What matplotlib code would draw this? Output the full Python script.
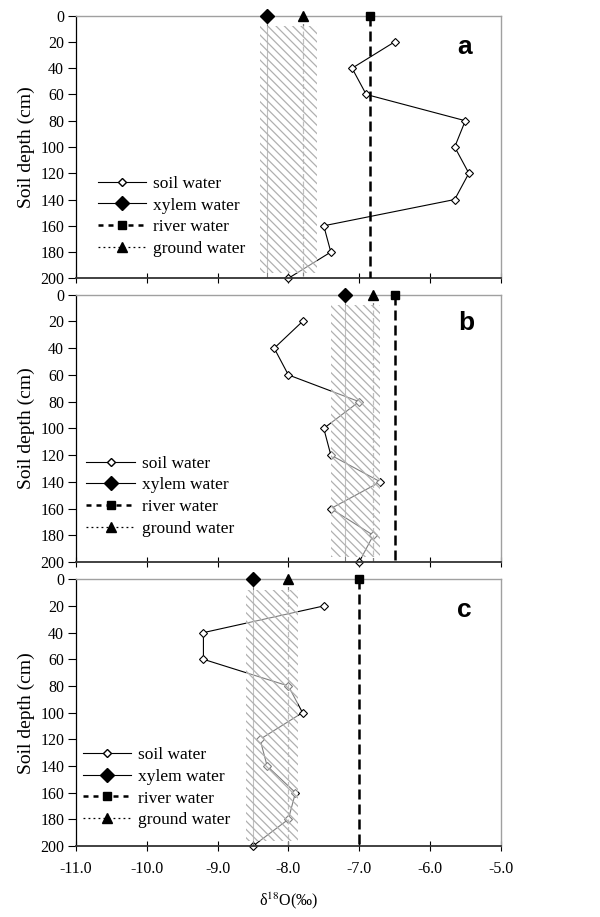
import matplotlib
matplotlib.use("Agg")
import matplotlib.pyplot as plt
from matplotlib.lines import Line2D

plt.rcParams['font.family'] = ['Liberation Serif', 'DejaVu Serif']
plt.rcParams['mathtext.fontset'] = 'stix'
plt.rcParams['axes.unicode_minus'] = False
plt.rcParams['hatch.linewidth'] = 0.9

# data
depth = [20, 40, 60, 80, 100, 120, 140, 160, 180, 200]
soil_a = [-6.5, -7.1, -6.9, -5.5, -5.65, -5.45, -5.65, -7.5, -7.4, -8.0]
soil_b = [-7.8, -8.2, -8.0, -7.0, -7.5, -7.4, -6.7, -7.4, -6.8, -7.0]
soil_c = [-7.5, -9.2, -9.2, -8.0, -7.8, -8.4, -8.3, -7.9, -8.0, -8.5]
xylem = [-8.3, -7.2, -8.5]
ground = [-7.8, -6.8, -8.0]
river = [-6.85, -6.5, -7.0]
band_lo = [-8.4, -7.4, -8.6]
band_hi = [-7.6, -6.7, -7.87]
band_depth = [8, 196]
panel_labels = ['a', 'b', 'c']
xticks = [-11, -10, -9, -8, -7, -6, -5]
yticks = [0, 20, 40, 60, 80, 100, 120, 140, 160, 180, 200]

soils = [soil_a, soil_b, soil_c]

fig = plt.figure(figsize=(6, 9.17), dpi=100)
# axes rectangles [left, bottom, width, height]
rects = [[0.1267, 0.6965, 0.7078, 0.2864],
         [0.1267, 0.3871, 0.7078, 0.2915],
         [0.1267, 0.0774, 0.7078, 0.2909]]
leg_pos = [(0.051, 0.236), (0.024, 0.246), (0.016, 0.219)]
lab_pos = [(0.916, 0.882), (0.918, 0.893), (0.914, 0.885)]

for i in range(3):
    ax = fig.add_axes(rects[i])
    ax.set_xlim(-11, -5)
    ax.set_ylim(200, 0)

    # soil water profile (under the shaded band)
    ax.plot(soils[i], depth, color='black', lw=0.8, marker='D', ms=4.3,
            mfc='white', mec='black', mew=0.8, zorder=2, clip_on=False)

    # vertical reference lines
    ax.plot([xylem[i], xylem[i]], [0, 200], color='#808080', lw=0.8, zorder=2)
    ax.plot([ground[i], ground[i]], [0, 200], color='#808080', lw=0.9,
            dashes=(4, 2), zorder=2)
    ax.plot([river[i], river[i]], [0, 200], color='black', lw=1.8,
            dashes=(4, 2), zorder=4)

    # shaded range band
    ax.fill_betweenx(band_depth, band_lo[i], band_hi[i], facecolor=(1, 1, 1, 0.5),
                     edgecolor='#b0b0b0', hatch='\\\\\\\\', lw=0, zorder=3)

    # markers at the top
    ax.plot(xylem[i], 0, marker='D', ms=7.5, color='black', zorder=5, clip_on=False)
    ax.plot(ground[i], 0, marker='^', ms=6.5, color='black', zorder=5, clip_on=False)
    ax.plot(river[i], 0, marker='s', ms=5.5, color='black', zorder=5, clip_on=False)

    ax.set_xticks(xticks)
    ax.set_yticks(yticks)
    ax.tick_params(axis='y', direction='out', length=5.5, width=0.8, labelsize=11.5, pad=3)
    ax.tick_params(axis='x', direction='inout', length=7, width=0.8, labelsize=11.5, pad=7)
    if i < 2:
        ax.set_xticklabels([])
    else:
        ax.set_xticklabels(['%.1f' % v for v in xticks])
        ax.set_xlabel('δ$^{18}$O(‰)', fontsize=11.5, labelpad=10)
    ax.set_ylabel('Soil depth (cm)', fontsize=14, labelpad=4)

    for s in ['top', 'right']:
        ax.spines[s].set_color('#a0a0a0')
        ax.spines[s].set_linewidth(1.0)
    ax.spines['left'].set_color('black')
    ax.spines['left'].set_linewidth(0.9)
    ax.spines['bottom'].set_color('#333333')
    ax.spines['bottom'].set_linewidth(1.3)

    ax.text(lab_pos[i][0], lab_pos[i][1], panel_labels[i], transform=ax.transAxes,
            ha='center', va='center', fontsize=19, fontweight='bold',
            family='Liberation Sans')

    handles = [
        Line2D([], [], color='black', lw=0.8, marker='D', ms=4.3, mfc='white', mec='black'),
        Line2D([], [], color='black', lw=0.8, marker='D', ms=7.5),
        Line2D([], [], color='black', lw=1.8, dashes=(2, 2), marker='s', ms=5.5),
        Line2D([], [], color='black', lw=0.9, dashes=(1.5, 2.5), marker='^', ms=6.5),
    ]
    names = ['soil water', 'xylem water', 'river water', 'ground water']
    ax.legend(handles, names, loc='center left', bbox_to_anchor=leg_pos[i],
              frameon=False, fontsize=12.5, handlelength=2.8, handletextpad=0.4,
              borderpad=0, borderaxespad=0, labelspacing=0.32)

fig.savefig('out.png', dpi=100)
